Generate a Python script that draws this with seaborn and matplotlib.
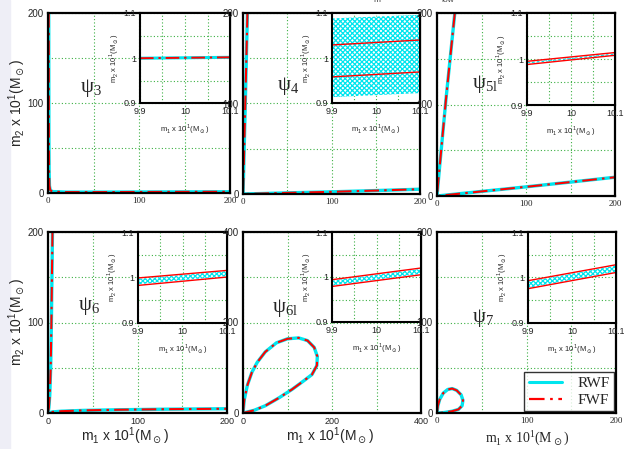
import matplotlib
matplotlib.use('Agg')
import matplotlib.pyplot as plt
import seaborn as sns
from matplotlib.lines import Line2D
from matplotlib.patches import Rectangle

sns.set_theme(style='white')
plt.rcParams['font.family'] = ['Liberation Sans', 'DejaVu Sans']
plt.rcParams['hatch.linewidth'] = 0.9

CYAN = '#00e5ee'
RED = '#ff0000'
GRID = '#3cb043'
DASHDOT = (0, (7, 2.5, 1.2, 2.5))

# main panel curves (m1, m2 in units of 10 Msun)
psi3_m1 = [0.8, 0.9, 1.0, 1.2, 1.6, 2.5, 5, 20, 60, 120, 200]
psi3_m2 = [200, 120, 60, 25, 8, 3, 1.6, 1.0, 1.0, 1.2, 1.4]

psi4_m1 = [5.0, 2.6, 0.6, 0.0, 20, 60, 100, 150, 200]
psi4_m2 = [200, 100, 20, 0.0, 0.5, 1.5, 2.4, 3.8, 5.3]

psi5l_m1 = [20, 10, 2, 0, 50, 100, 150, 200]
psi5l_m2 = [200, 105, 22, 0, 5, 10, 15.2, 20.5]

psi6_m1 = [5.0, 4.4, 3.8, 3.0, 2.0, 1.0, 0.0, 5, 15, 40, 80, 130, 200]
psi6_m2 = [200, 150, 100, 50, 20, 6, 0, 1.2, 2.0, 2.9, 3.6, 4.2, 4.7]

psi6l_m1 = [0, 3, 10, 20, 32, 50, 75, 100, 125, 145, 160, 167, 166, 155, 135, 110, 80, 50, 25, 0]
psi6l_m2 = [0, 30, 62, 90, 112, 135, 155, 164, 166, 160, 145, 125, 105, 85, 70, 52, 33, 16, 6, 0]

psi7_m1 = [0, 1, 3, 7, 12, 17, 22, 27, 29, 28, 24, 17, 8, 0]
psi7_m2 = [0, 8, 15, 22, 26, 27, 25, 20, 14, 8, 4, 2, 0.5, 0]

# inset data (zoom around m1 = 10, m2 = 1)
inset_m1 = [9.9, 10.1]
psi3_line = [0.9995, 1.0015]
psi4_rwf_lo, psi4_rwf_hi = [0.913, 0.922], [1.088, 1.096]
psi4_fwf_lo, psi4_fwf_hi = [0.958, 0.969], [1.029, 1.040]
psi5l_rwf_lo, psi5l_rwf_hi = [0.990, 1.009], [0.993, 1.012]
psi5l_fwf_lo, psi5l_fwf_hi = [0.988, 1.008], [0.995, 1.014]
psi6_rwf_lo, psi6_rwf_hi = [0.985, 1.003], [0.997, 1.014]
psi6_fwf_lo, psi6_fwf_hi = [0.9826, 1.001], [0.999, 1.0156]
psi6l_rwf_lo, psi6l_rwf_hi = [0.981, 1.007], [0.992, 1.018]
psi6l_fwf_lo, psi6l_fwf_hi = [0.979, 1.005], [0.994, 1.020]
psi7_rwf_lo, psi7_rwf_hi = [0.977, 1.013], [0.991, 1.026]
psi7_fwf_lo, psi7_fwf_hi = [0.9754, 1.011], [0.993, 1.028]

labels = ['3', '4', '5l', '6', '6l', '7']
lims = [200, 200, 200, 200, 400, 200]

W, H = 624, 449
fig = plt.figure(figsize=(W / 100, H / 100), dpi=100)
fig.patches.append(Rectangle((0, 0), 10 / W, 1, transform=fig.transFigure,
                             color='#eeeef6', zorder=-1))


def box(x0, y0, x1, y1):
    return [x0 / W, 1 - y1 / H, (x1 - x0) / W, (y1 - y0) / H]


main_boxes = [(48, 13, 230, 193), (243, 13, 420, 194), (437, 13, 615, 196),
              (48, 232, 227, 413), (243, 232, 421, 413), (437, 232, 616, 413)]
inset_boxes = [(140, 13, 230, 103), (332, 13, 420, 103), (527, 13, 615, 105),
               (138, 232, 227, 323), (332, 232, 421, 322), (528, 232, 616, 323)]
psi_pos = [(80, 88), (277, 86), (472, 84), (78, 306), (272, 308), (472, 318)]

curves = [(psi3_m1, psi3_m2), (psi4_m1, psi4_m2), (psi5l_m1, psi5l_m2),
          (psi6_m1, psi6_m2), (psi6l_m1, psi6l_m2), (psi7_m1, psi7_m2)]
bands = [None,
         (psi4_rwf_lo, psi4_rwf_hi, psi4_fwf_lo, psi4_fwf_hi),
         (psi5l_rwf_lo, psi5l_rwf_hi, psi5l_fwf_lo, psi5l_fwf_hi),
         (psi6_rwf_lo, psi6_rwf_hi, psi6_fwf_lo, psi6_fwf_hi),
         (psi6l_rwf_lo, psi6l_rwf_hi, psi6l_fwf_lo, psi6l_fwf_hi),
         (psi7_rwf_lo, psi7_rwf_hi, psi7_fwf_lo, psi7_fwf_hi)]


def style_axes(ax, lw=1.6):
    for s in ax.spines.values():
        s.set_color('black')
        s.set_linewidth(lw)
    ax.grid(which='both', color=GRID, linestyle=(0, (1, 2)), linewidth=0.8)
    ax.tick_params(which='both', length=0, pad=3)


def draw_curve(ax, x, y, lw_c=2.4, lw_r=1.5):
    sns.lineplot(x=x, y=y, sort=False, estimator=None, color=CYAN, lw=lw_c, ax=ax)
    sns.lineplot(x=x, y=y, sort=False, estimator=None, color=RED, lw=lw_r,
                 linestyle=DASHDOT, ax=ax)


for i in range(6):
    ax = fig.add_axes(box(*main_boxes[i]))
    lim = lims[i]
    m1, m2 = curves[i]
    draw_curve(ax, m1, m2)
    ax.set_xlim(0, lim)
    ax.set_ylim(0, lim)
    ax.set_xticks([0, lim / 2, lim])
    ax.set_yticks([0, lim / 2, lim])
    ax.set_xticks([lim / 4, 3 * lim / 4], minor=True)
    ax.set_yticks([lim / 4, 3 * lim / 4], minor=True)
    ax.set_xticklabels([str(int(v)) for v in [0, lim / 2, lim]], fontsize=6.5,
                       family='Liberation Serif' if i < 3 or i == 5 else None)
    ax.set_yticklabels([str(int(v)) for v in [0, lim / 2, lim]], fontsize=7)
    ax.set_xlabel('')
    ax.set_ylabel('')
    style_axes(ax)
    px, py = psi_pos[i]
    fig.text(px / W, 1 - py / H, 'ψ$_{\\mathregular{%s}}$' % labels[i],
             family='Liberation Serif', fontsize=15, ha='left', va='center')

    # inset
    ia = fig.add_axes(box(*inset_boxes[i]))
    if bands[i] is None:
        draw_curve(ia, inset_m1, psi3_line, lw_c=2.2, lw_r=1.4)
    else:
        r_lo, r_hi, f_lo, f_hi = bands[i]
        ia.fill_between(inset_m1, r_lo, r_hi, facecolor='white', edgecolor=CYAN,
                        hatch='xxxxxxx', linewidth=0)
        sns.lineplot(x=inset_m1, y=f_lo, color=RED, lw=1.0, ax=ia)
        sns.lineplot(x=inset_m1, y=f_hi, color=RED, lw=1.0, ax=ia)
    ia.set_xlim(9.9, 10.1)
    ia.set_ylim(0.9, 1.1)
    ia.set_xticks([9.9, 10.0, 10.1])
    ia.set_yticks([0.9, 1.0, 1.1])
    ia.set_xticks([9.95, 10.05], minor=True)
    ia.set_yticks([0.95, 1.05], minor=True)
    ia.set_xticklabels(['9.9', '10', '10.1'], fontsize=6.5)
    ia.set_yticklabels(['0.9', '1', '1.1'], fontsize=6.5)
    ia.set_xlabel('m$_\\mathregular{1}$ x 10$^\\mathregular{1}$(M$_\\odot$)',
                  fontsize=5.5, labelpad=4)
    ia.set_ylabel('m$_\\mathregular{2}$ x 10$^\\mathregular{1}$(M$_\\odot$)',
                  fontsize=5.5, labelpad=2)
    style_axes(ia, lw=1.5)

    if i == 5:
        handles = [Line2D([], [], color=CYAN, lw=2.2),
                   Line2D([], [], color=RED, lw=1.6, linestyle=DASHDOT)]
        leg = ax.legend(handles, ['RWF', 'FWF'], loc='lower right',
                        prop={'family': 'Liberation Serif', 'size': 11},
                        frameon=True, fancybox=False, handlelength=2.2,
                        borderaxespad=0.1, borderpad=0.3, labelspacing=0.2,
                        handletextpad=1.0)
        leg.get_frame().set_edgecolor('black')
        leg.get_frame().set_linewidth(1.0)
        leg.set_zorder(10)

ylab = 'm$_\\mathregular{2}$ x 10$^\\mathregular{1}$(M$_\\odot$)'
xlab = 'm$_\\mathregular{1}$ x 10$^\\mathregular{1}$(M$_\\odot$)'
fig.text(17 / W, 1 - 103 / H, ylab, rotation=90, fontsize=10, ha='center', va='center')
fig.text(17 / W, 1 - 322 / H, ylab, rotation=90, fontsize=10, ha='center', va='center')
fig.text(125 / W, 1 - 436 / H, xlab, fontsize=10, ha='center', va='center')
fig.text(330 / W, 1 - 436 / H, xlab, fontsize=10, ha='center', va='center')
fig.text(527 / W, 1 - 438 / H, xlab, fontsize=10, ha='center', va='center',
         family='Liberation Serif')

# clipped fragments of a caption above the frame
fig.text(377 / W, 1.0, 'm', fontsize=6, color='#444444', ha='center', va='center')
fig.text(448 / W, 1.0, 'low', fontsize=6, color='#444444', ha='center', va='center')

fig.savefig('out.png', dpi=100)
